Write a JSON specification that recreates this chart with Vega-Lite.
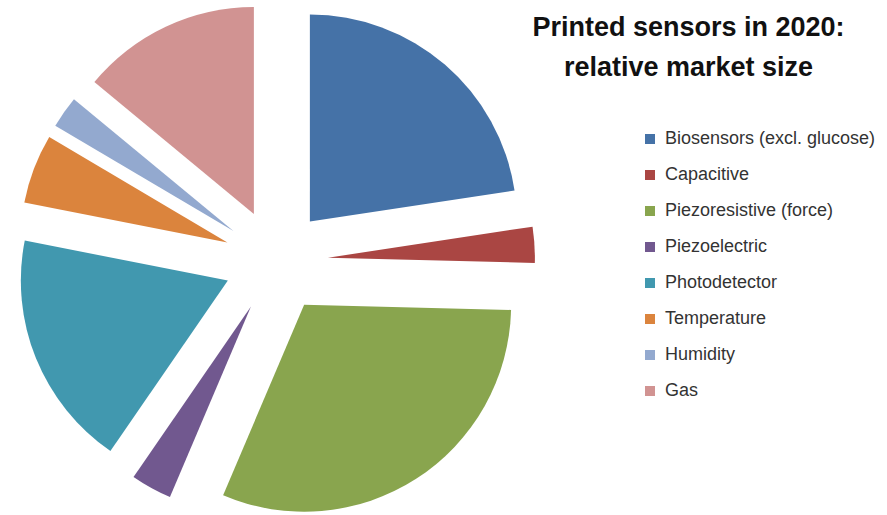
{
  "$schema": "https://vega.github.io/schema/vega-lite/v6.json",
  "width": 887,
  "height": 515,
  "autosize": {"type": "none"},
  "padding": 0,
  "background": "white",
  "config": {"view": {"stroke": null}},
  "title": {
    "text": ["Printed sensors in 2020:", "relative market size"],
    "anchor": "middle",
    "frame": "group",
    "font": "Liberation Sans",
    "fontSize": 27,
    "fontWeight": "bold",
    "color": "#111111",
    "lineHeight": 40,
    "baseline": "top",
    "dx": 245,
    "dy": 86
  },
  "data": {
    "values": [
      {"sensor": "Biosensors (excl. glucose)", "share": 22.6},
      {"sensor": "Capacitive", "share": 2.8},
      {"sensor": "Piezoresistive (force)", "share": 31.0},
      {"sensor": "Piezoelectric", "share": 3.2},
      {"sensor": "Photodetector", "share": 18.5},
      {"sensor": "Temperature", "share": 5.4},
      {"sensor": "Humidity", "share": 2.5},
      {"sensor": "Gas", "share": 14.0}
    ]
  },
  "transform": [
    {"window": [{"op": "sum", "field": "share", "as": "cum"}], "frame": [null, 0]},
    {"calculate": "datum.cum - datum.share", "as": "start"},
    {"calculate": "(datum.cum - datum.share / 2) / 100 * 2 * PI", "as": "mid"},
    {"calculate": "sin(datum.mid)", "as": "dirX"},
    {"calculate": "cos(datum.mid)", "as": "dirY"}
  ],
  "mark": {"type": "arc", "radius": 207},
  "encoding": {
    "theta": {"field": "start", "type": "quantitative", "scale": {"domain": [0, 100], "range": [0, 6.283185307]}, "stack": null},
    "theta2": {"field": "cum"},
    "x": {"field": "dirX", "type": "quantitative", "scale": {"domain": [-1, 1], "range": [224, 328]}, "axis": null},
    "y": {"field": "dirY", "type": "quantitative", "scale": {"domain": [-1, 1], "range": [313, 209]}, "axis": null},
    "color": {
      "field": "sensor",
      "type": "nominal",
      "scale": {
        "domain": ["Biosensors (excl. glucose)", "Capacitive", "Piezoresistive (force)", "Piezoelectric", "Photodetector", "Temperature", "Humidity", "Gas"],
        "range": ["#4572A7", "#AA4643", "#89A54E", "#71588F", "#4198AF", "#DB843D", "#93A9CF", "#D19392"]
      },
      "legend": {
        "title": null,
        "orient": "none",
        "legendX": 641,
        "legendY": 130,
        "symbolType": "square",
        "symbolSize": 100,
        "symbolStrokeWidth": 0,
        "labelFont": "Liberation Sans",
        "labelFontSize": 18,
        "labelColor": "#333333",
        "labelOffset": 6,
        "rowPadding": 18,
        "labelLimit": 300
      }
    }
  }
}
